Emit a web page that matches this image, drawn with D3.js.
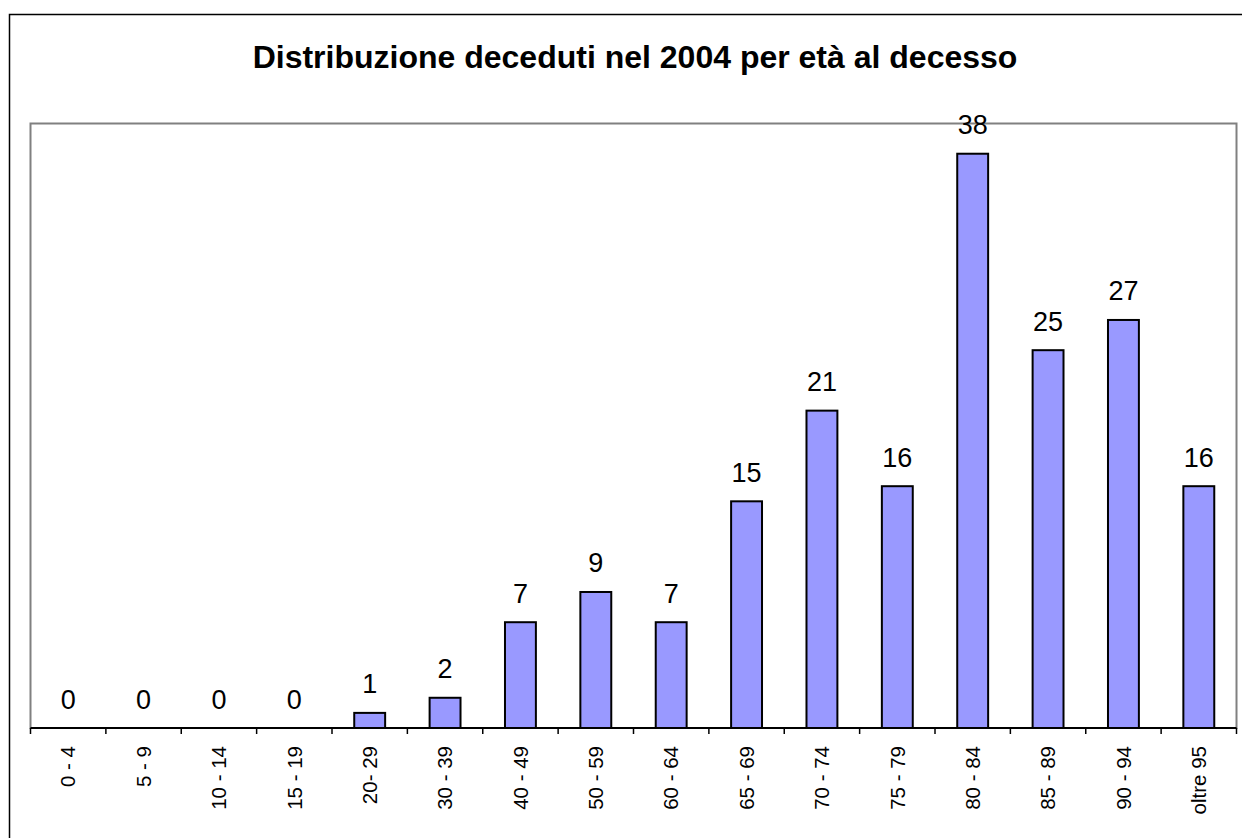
<!DOCTYPE html>
<html><head><meta charset="utf-8">
<script src="https://cdn.jsdelivr.net/npm/d3@7"></script>
<style>
html,body{margin:0;padding:0;background:#fff;}
svg{display:block;font-family:Arial,"Liberation Sans",sans-serif;}
</style></head>
<body><svg id="c" width="1242" height="838"></svg>
<script>
const categories = ["0 - 4","5 - 9","10 - 14","15 - 19","20- 29","30 - 39","40 - 49","50 - 59","60 - 64","65 - 69","70 - 74","75 - 79","80 - 84","85 - 89","90 - 94","oltre 95"];
const values = [0,0,0,0,1,2,7,9,7,15,21,16,38,25,27,16];
const title = "Distribuzione deceduti nel 2004 per età al decesso";
const yDomain = [0, 40];

const svg = d3.select("#c");
// outer chart border
svg.append("rect").attr("x",9.5).attr("y",14.5).attr("width",1250).attr("height",840)
  .attr("fill","#fff").attr("stroke","#000").attr("stroke-width",1.5);

const L=30.5, R=1236.5, T=123.5, B=728;
const x = d3.scaleBand().domain(categories).range([L,R]).paddingInner(0.59).paddingOuter(0.295);
const xb = d3.scaleBand().domain(categories).range([L,R]);
const y = d3.scaleLinear().domain(yDomain).range([B,T]);

// plot area
svg.append("rect").attr("x",L).attr("y",T).attr("width",R-L).attr("height",B-T)
  .attr("fill","#fff").attr("stroke","#808080").attr("stroke-width",2);

svg.append("text").attr("x",635).attr("y",68).attr("text-anchor","middle")
  .attr("font-size",32).attr("font-weight","bold").text(title);

svg.selectAll("rect.bar").data(values).join("rect").attr("class","bar")
  .attr("x",(d,i)=>x(categories[i])).attr("width",x.bandwidth())
  .attr("y",d=>y(d)).attr("height",d=>B-y(d))
  .attr("fill","#9999FF").attr("stroke","#000").attr("stroke-width",2);

svg.selectAll("text.lbl").data(values).join("text").attr("class","lbl")
  .attr("x",(d,i)=>xb(categories[i])+xb.bandwidth()/2).attr("y",d=>y(d)-19.5)
  .attr("text-anchor","middle").attr("font-size",27).text(d=>d);

// x axis
const ax = svg.append("g").attr("transform",`translate(0,${B})`);
ax.append("line").attr("x1",L).attr("x2",R).attr("stroke","#000").attr("stroke-width",2);
const ticks = xb.domain().map(c=>xb(c)).concat([R]);
ax.selectAll("line.t").data(ticks).join("line").attr("class","t")
  .attr("x1",d=>d).attr("x2",d=>d).attr("y1",0).attr("y2",6).attr("stroke","#000").attr("stroke-width",1.5);
ax.selectAll("text").data(categories).join("text")
  .attr("transform",c=>`translate(${xb(c)+xb.bandwidth()/2},18) rotate(-90)`)
  .attr("text-anchor","end").attr("dy","0.35em").attr("font-size",20.5).text(c=>c);
</script></body></html>
